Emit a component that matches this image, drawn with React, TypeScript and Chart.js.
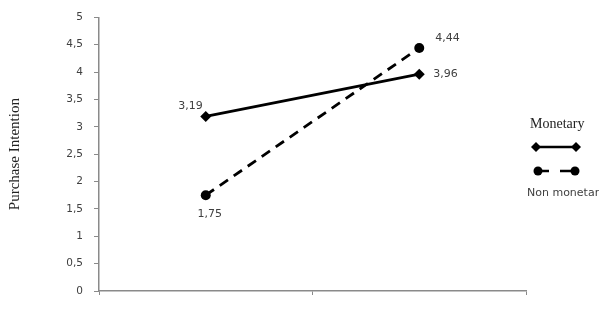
import React, { useEffect, useRef } from "react";
import { Chart, registerables } from "chart.js";

Chart.register(...registerables);

const categories = ["", ""];
const monetary = [3.19, 3.96];
const nonMonetary = [1.75, 4.44];
const seriesNames = ["Monetary", "Non monetary"];
const yTitle = "Purchase Intention";

const AXIS = "#8a8a8a";
const TEXT = "#404040";
const SANS = "'DejaVu Sans', Verdana, sans-serif";
const SERIF = "'Liberation Serif', 'Times New Roman', serif";

const fmt = (v: number) => v.toFixed(2).replace(".", ",");

// label offsets [dx, dy, align] per dataset/point
const labelPlacement: [number, number, CanvasTextAlign][][] = [
  [
    [-3, -10, "right"],
    [14, 0, "left"],
  ],
  [
    [4, 19, "center"],
    [16, -10, "left"],
  ],
];

const dataLabelPlugin = {
  id: "dataLabels",
  afterDatasetsDraw(chart: any) {
    const ctx = chart.ctx;
    ctx.save();
    ctx.font = `11px ${SANS}`;
    ctx.fillStyle = TEXT;
    ctx.textBaseline = "middle";
    chart.data.datasets.forEach((ds: any, di: number) => {
      const meta = chart.getDatasetMeta(di);
      meta.data.forEach((pt: any, i: number) => {
        const [dx, dy, align] = labelPlacement[di][i];
        ctx.textAlign = align;
        ctx.fillText(fmt(ds.data[i]), pt.x + dx, pt.y + dy);
      });
    });
    ctx.restore();
  },
};

const legendPlugin = {
  id: "customLegend",
  afterDraw(chart: any) {
    const ctx = chart.ctx;
    ctx.save();
    ctx.fillStyle = "#222";
    ctx.textBaseline = "middle";
    ctx.textAlign = "left";
    ctx.font = `14px ${SERIF}`;
    ctx.fillText(seriesNames[0], 530, 124);
    ctx.strokeStyle = "#000";
    ctx.fillStyle = "#000";
    ctx.lineWidth = 2.5;
    ctx.beginPath();
    ctx.moveTo(536, 147);
    ctx.lineTo(576, 147);
    ctx.stroke();
    const diamond = (x: number, y: number, r: number) => {
      ctx.beginPath();
      ctx.moveTo(x, y - r);
      ctx.lineTo(x + r, y);
      ctx.lineTo(x, y + r);
      ctx.lineTo(x - r, y);
      ctx.closePath();
      ctx.fill();
    };
    diamond(536, 147, 5);
    diamond(576, 147, 5);
    ctx.beginPath();
    ctx.moveTo(537, 171);
    ctx.lineTo(549, 171);
    ctx.moveTo(560, 171);
    ctx.lineTo(575, 171);
    ctx.stroke();
    ctx.beginPath();
    ctx.arc(538, 171, 4.5, 0, Math.PI * 2);
    ctx.fill();
    ctx.beginPath();
    ctx.arc(575, 171, 4.5, 0, Math.PI * 2);
    ctx.fill();
    ctx.fillStyle = TEXT;
    ctx.font = `11px ${SANS}`;
    ctx.fillText(seriesNames[1], 527, 193);
    ctx.restore();
  },
};

export default function App() {
  const ref = useRef<HTMLCanvasElement>(null);
  useEffect(() => {
    document.body.style.margin = "0";
    const chart = new Chart(ref.current as HTMLCanvasElement, {
      type: "line",
      data: {
        labels: categories,
        datasets: [
          {
            label: seriesNames[0],
            data: monetary,
            borderColor: "#000",
            backgroundColor: "#000",
            borderWidth: 2.8,
            pointStyle: "rectRot",
            pointRadius: 5.5,
            pointBackgroundColor: "#000",
            pointBorderWidth: 0,
          },
          {
            label: seriesNames[1],
            data: nonMonetary,
            borderColor: "#000",
            backgroundColor: "#000",
            borderWidth: 2.8,
            borderDash: [10, 7],
            pointStyle: "circle",
            pointRadius: 5,
            pointBackgroundColor: "#000",
            pointBorderWidth: 0,
          },
        ],
      },
      options: {
        animation: false,
        responsive: false,
        layout: { padding: { top: 8, right: 73, bottom: 0, left: 0 } },
        plugins: {
          legend: { display: false },
          tooltip: { enabled: false },
        },
        scales: {
          x: {
            offset: true,
            grid: {
              offset: true,
              drawOnChartArea: false,
              drawTicks: true,
              tickLength: 4,
              color: AXIS,
            },
            border: { color: AXIS, width: 1.5 },
            ticks: { display: false },
            afterFit: (s: any) => {
              s.height = 22;
            },
          },
          y: {
            min: 0,
            max: 5,
            grid: {
              drawOnChartArea: false,
              drawTicks: true,
              tickLength: 5,
              color: AXIS,
            },
            border: { color: AXIS, width: 1.5 },
            ticks: {
              stepSize: 0.5,
              padding: 11,
              color: TEXT,
              font: { family: SANS, size: 10.5 },
              callback: (v: any) => String(v).replace(".", ","),
            },
            title: {
              display: true,
              text: yTitle,
              color: "#222",
              font: { family: SERIF, size: 15 },
              padding: { top: 6, bottom: 0 },
            },
            afterFit: (s: any) => {
              s.width = 99;
            },
          },
        },
      },
      plugins: [dataLabelPlugin, legendPlugin],
    });
    return () => chart.destroy();
  }, []);
  return (
    <canvas
      ref={ref}
      width={599}
      height={313}
      style={{ display: "block", width: 599, height: 313 }}
    />
  );
}
